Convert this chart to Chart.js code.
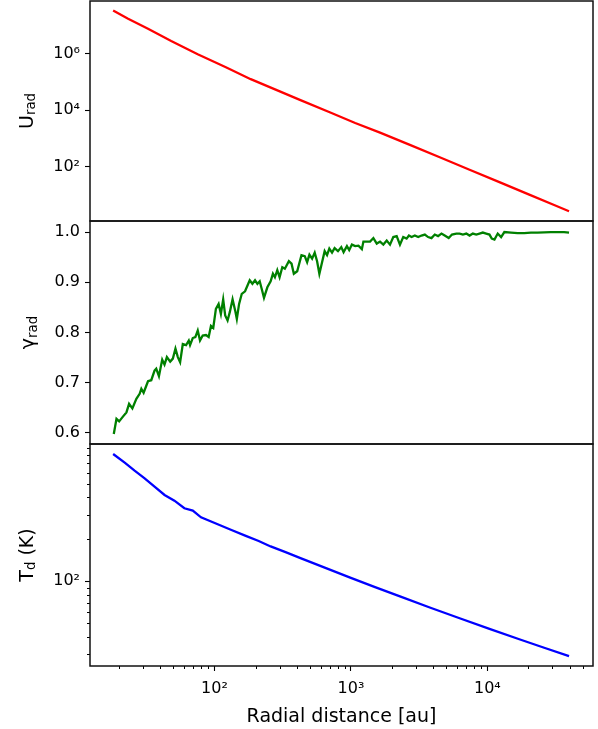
<!DOCTYPE html>
<html><head><meta charset="utf-8">
<script src="https://cdn.jsdelivr.net/npm/chart.js@4.4.1/dist/chart.umd.min.js"></script>
<style>
html,body{margin:0;padding:0;background:#fff;}
#wrap{position:relative;width:598px;height:729px;overflow:hidden;background:#fff;}
canvas{position:absolute;left:0;}
</style></head><body>
<div id="wrap">
<canvas id="cU" width="598" height="223" style="top:0px;width:598px;height:223px"></canvas>
<canvas id="cG" width="598" height="226" style="top:220px;width:598px;height:226px"></canvas>
<canvas id="cT" width="598" height="286" style="top:443px;width:598px;height:286px"></canvas>
</div>
<script>
// ---------------- data ----------------
const radiusU = [18.1,23.3,32.6,48.2,75.4,121.3,184.5,280.7,427.0,706.6,1075,1635,2705,4476,7405,12250,20270,30840,39660];
const uRad    = [3.37e7,1.72e7,7.62e6,2.78e6,9.45e5,3.29e5,1.24e5,5.29e4,2.25e4,8170,3480,1580,582,211,76.6,27.7,10.0,4.28,2.59];

const radiusG = [18.30,19.15,20.03,21.42,22.65,23.69,25.04,26.78,28.31,29.13,30.27,32.60,34.44,36.40,37.46,39.20,41.43,43.06,44.83,47.39,
 49.58,51.80,53.93,56.04,58.64,61.99,64.86,66.28,69.36,72.46,75.44,78.40,82.04,86.70,90.72,94.30,98.0,102.5,107.3,111.5,
 115.9,119.9,124.8,129.7,135.8,141.8,145.9,151.6,158.6,167.6,181.4,189.8,198.4,206.5,214.6,221.9,230.7,244.2,258.1,268.3,
 277.4,288.8,300.2,314.2,328.1,351.0,367.3,381.7,404.1,434.2,458.9,477.8,496.6,519.6,542.9,565.2,587.4,614.7,642.2,668.6,
 694.8,727.1,759.6,804.2,850.1,883.6,935.0,971.9,1017,1075,1136,1203,1235,1308,1382,1461,1547,1635,1729,1830,
 1934,2045,2165,2288,2418,2560,2660,2784,2942,3110,3293,3481,3679,3895,4117,4352,4607,4869,5207,5503,
 5924,6262,6618,7007,7405,7828,8287,8758,9257,9802,10360,10770,11270,11910,12610,13320,14910,16660,18640,20850,
 23300,26080,29170,32600,36480,39660];
const gammaRad = [0.598,0.628,0.623,0.633,0.641,0.658,0.649,0.668,0.678,0.688,0.680,0.703,0.705,0.724,0.728,0.713,0.746,0.736,0.751,0.742,
 0.748,0.768,0.751,0.741,0.777,0.775,0.784,0.775,0.789,0.791,0.804,0.784,0.794,0.795,0.791,0.813,0.809,0.847,0.857,0.837,
 0.866,0.834,0.824,0.841,0.866,0.844,0.827,0.857,0.877,0.882,0.904,0.897,0.904,0.897,0.902,0.887,0.869,0.890,0.902,0.917,
 0.910,0.924,0.910,0.930,0.927,0.942,0.937,0.917,0.922,0.954,0.952,0.940,0.955,0.947,0.959,0.942,0.917,0.940,0.962,0.954,
 0.967,0.959,0.968,0.962,0.970,0.960,0.972,0.964,0.975,0.972,0.973,0.966,0.981,0.981,0.981,0.988,0.977,0.981,0.975,0.983,
 0.975,0.990,0.992,0.975,0.990,0.987,0.993,0.990,0.993,0.990,0.993,0.995,0.990,0.988,0.995,0.992,0.997,0.993,0.988,0.995,
 0.997,0.997,0.995,0.997,0.993,0.997,0.995,0.997,0.999,0.997,0.995,0.987,0.985,0.997,0.990,1.000,0.999,0.998,0.998,0.999,
 0.999,0.9995,1.000,1.000,1.000,0.999];

const radiusT = [18.1,22.0,26.0,30.8,36.4,43.1,50.9,60.2,69.4,79.7,102.5,131.9,169.7,211.0,258.1,332.0,427.0,649.8,988.3,1503,2288,3784,6262,10360,17140,26080,39660];
const tDust   = [817.6,708.5,620.6,547.5,476.5,415.6,378.3,333.7,320.8,287.6,259.3,234.0,211.4,194.5,177.7,161.9,146.7,124.7,106.3,90.9,77.9,64.9,54.3,45.6,38.4,33.4,29.1];

// ---------------- ticks / axis ranges ----------------
const xTickVals = [100, 1000, 10000];
const xTickLabels = ['10\u00B2', '10\u00B3', '10\u2074'];
const xMinorVals = [20,30,40,50,60,70,80,90,200,300,400,500,600,700,800,900,2000,3000,4000,5000,6000,7000,8000,9000,20000,30000,40000,50000];
const uTickVals = [100, 10000, 1000000];
const uTickLabels = ['10\u00B2', '10\u2074', '10\u2076'];
const gTickVals = [0.6, 0.7, 0.8, 0.9, 1.0];
const gTickLabels = ['0.6', '0.7', '0.8', '0.9', '1.0'];
const tTickVals = [100];
const tTickLabels = ['10\u00B2'];
const tMinorVals = [30,40,50,60,70,80,90,200,300,400,500,600,700,800,900];

const X_MIN = 12.25, X_MAX = 59430;
const U_MIN = 1.164, U_MAX = 7.33e7;
const G_MIN = 0.578, G_MAX = 1.022;
const T_MIN = 24.7, T_MAX = 964;

Chart.defaults.font.family = 'DejaVu Sans';
Chart.defaults.color = '#000';

const framePlugin = {
  id: 'frameLabels',
  afterDraw(chart, args, opts) {
    const {ctx, chartArea: a} = chart;
    ctx.save();
    ctx.strokeStyle = '#000';
    ctx.lineWidth = 1;
    ctx.beginPath();
    (opts.yMinor || []).forEach(v => {
      const p = Math.round(chart.scales.y.getPixelForValue(v)) + 0.5;
      ctx.moveTo(a.left, p); ctx.lineTo(a.left - 3, p);
    });
    (opts.xMinor || []).forEach(v => {
      const p = Math.round(chart.scales.x.getPixelForValue(v)) + 0.5;
      ctx.moveTo(p, a.bottom); ctx.lineTo(p, a.bottom + 3);
    });
    ctx.stroke();
    ctx.lineWidth = 1.5;
    ctx.strokeStyle = '#111';
    ctx.strokeRect(a.left, a.top, a.right - a.left, a.bottom - a.top);
    if (opts.label) {
      const L = opts.label;
      const big = L.size, small = L.size * 0.7;
      let total = 0;
      const widths = L.parts.map(p => {
        ctx.font = (p.sub ? small : big) + 'px "DejaVu Sans"';
        const w = ctx.measureText(p.t).width; total += w; return w;
      });
      ctx.translate(L.x, (a.top + a.bottom) / 2);
      ctx.rotate(-Math.PI / 2);
      ctx.fillStyle = '#000';
      ctx.textBaseline = 'alphabetic';
      ctx.textAlign = 'left';
      let x = -total / 2;
      L.parts.forEach((p, i) => {
        ctx.font = (p.sub ? small : big) + 'px "DejaVu Sans"';
        ctx.fillText(p.t, x, p.sub ? L.subDrop : 0);
        x += widths[i];
      });
    }
    ctx.restore();
  }
};

function noPad(s) { s.paddingTop = 0; s.paddingBottom = 0; s.paddingLeft = 0; s.paddingRight = 0; }

function yAxis(type, min, max, vals, labels) {
  return {
    type, min, max, bounds: 'data',
    afterFit: s => { s.width = 90; noPad(s); },
    afterBuildTicks: s => { s.ticks = vals.map(v => ({value: v})); },
    ticks: { autoSkip: false, padding: 5, color: '#000', font: {size: 16},
      callback: (v, i) => labels[i] },
    grid: { drawOnChartArea: false, drawTicks: true, tickLength: 5, tickColor: '#000', tickWidth: 1.1 },
    border: { display: false }
  };
}

function xAxisHidden() {
  return { type: 'logarithmic', min: X_MIN, max: X_MAX, bounds: 'data', display: false };
}

function makeChart(id, xs, ys, color, yScale, xScale, padding, pluginOpts) {
  return new Chart(document.getElementById(id), {
    type: 'line',
    data: { datasets: [{
      data: xs.map((r, i) => ({x: r, y: ys[i]})),
      borderColor: color, borderWidth: 2.3, pointRadius: 0, tension: 0, fill: false
    }]},
    options: {
      responsive: false, animation: false, devicePixelRatio: 1,
      layout: { padding, autoPadding: false },
      plugins: { legend: {display: false}, tooltip: {enabled: false}, frameLabels: pluginOpts },
      scales: { x: xScale, y: yScale }
    },
    plugins: [framePlugin]
  });
}

makeChart('cU', radiusU, uRad, '#ff0000',
  yAxis('logarithmic', U_MIN, U_MAX, uTickVals, uTickLabels), xAxisHidden(),
  {top: 1, right: 5, bottom: 2, left: 0},
  {label: {size: 19, x: 33, subDrop: 2, parts: [{t: 'U'}, {t: 'rad', sub: true}]}});

makeChart('cG', radiusG, gammaRad, '#008000',
  yAxis('linear', G_MIN, G_MAX, gTickVals, gTickLabels), xAxisHidden(),
  {top: 1, right: 5, bottom: 2, left: 0},
  {label: {size: 19, x: 34, subDrop: 3, parts: [{t: '\u03B3'}, {t: 'rad', sub: true}]}});

makeChart('cT', radiusT, tDust, '#0000ff',
  yAxis('logarithmic', T_MIN, T_MAX, tTickVals, tTickLabels),
  {
    type: 'logarithmic', min: X_MIN, max: X_MAX, bounds: 'data',
    afterFit: s => { s.height = 63; noPad(s); },
    afterBuildTicks: s => { s.ticks = xTickVals.map(v => ({value: v})); },
    ticks: { autoSkip: false, maxRotation: 0, padding: 8, color: '#000', font: {size: 16},
      callback: (v, i) => xTickLabels[i] },
    grid: { drawOnChartArea: false, drawTicks: true, tickLength: 5, tickColor: '#000', tickWidth: 1.1 },
    border: { display: false },
    title: { display: true, text: 'Radial distance [au]', font: {size: 19}, color: '#000', padding: {top: 0, bottom: 1} }
  },
  {top: 1, right: 5, bottom: 0, left: 0},
  {yMinor: tMinorVals, xMinor: xMinorVals,
   label: {size: 19, x: 32.5, subDrop: 2, parts: [{t: 'T'}, {t: 'd', sub: true}, {t: ' (K)'}]}});
</script>
</body></html>
